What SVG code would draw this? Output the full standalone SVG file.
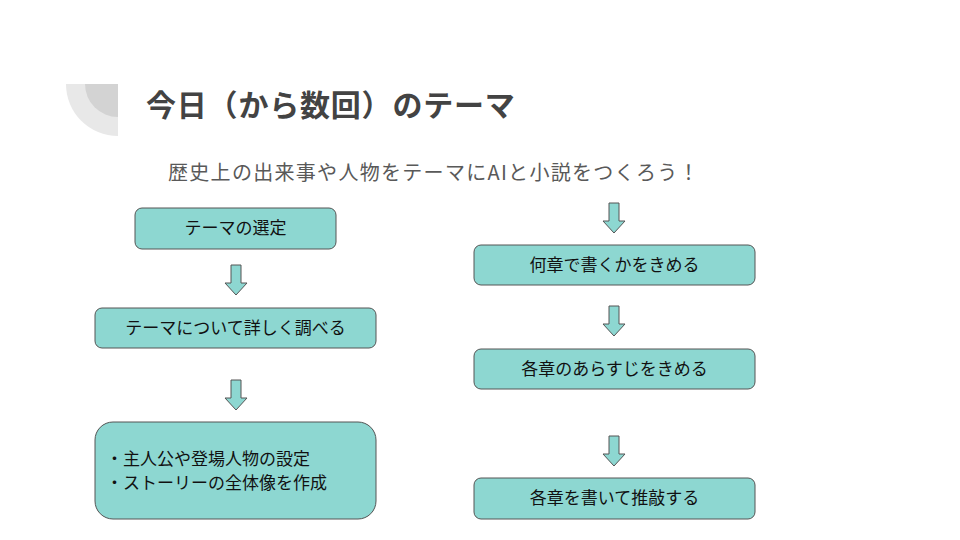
<svg xmlns="http://www.w3.org/2000/svg" width="960" height="540" viewBox="0 0 960 540">
<defs>
<style>
.box{fill:#8dd7d1;stroke:#555;stroke-width:1}
.t{font-family:"Noto Sans CJK JP","Noto Sans",sans-serif;font-size:17px;fill:#111;text-anchor:middle}
.arr{fill:#8dd7d1;stroke:#555;stroke-width:1}
.b{font-family:"Noto Sans CJK JP",sans-serif;font-size:17px;fill:#111}
</style>
<path id="da" d="M-5,0 H5 V18 H11 L0,30 L-11,18 H-5 Z"/>
</defs>
<rect width="960" height="540" fill="#fff"/>
<path d="M118,84 V136 A52,52 0 0 1 66,84 Z" fill="#e8e8e8"/>
<path d="M118,84 V117 A33,33 0 0 1 85,84 Z" fill="#d3d3d3"/>
<text x="146" y="116" style="font-family:'Noto Sans CJK JP',sans-serif;font-size:30px;font-weight:bold;fill:#434343;letter-spacing:0.8px">今日（から数回）のテーマ</text>
<text x="168" y="180" style="font-family:'Noto Sans CJK JP',sans-serif;font-size:20px;fill:#595959;letter-spacing:1.3px">歴史上の出来事や人物をテーマにAIと小説をつくろう！</text>
<g id="n1"><rect class="box" x="135" y="208" width="201" height="41" rx="7"/><text class="t" x="235.500" y="234">テーマの選定</text></g>
<g id="n2"><rect class="box" x="95" y="308" width="281" height="40" rx="7"/><text class="t" x="235.500" y="334">テーマについて詳しく調べる</text></g>
<g id="n3"><rect class="box" x="95" y="422" width="281" height="97" rx="18"/><text class="b" x="106" y="465">・主人公や登場人物の設定</text><text class="b" x="106" y="489">・ストーリーの全体像を作成</text></g>
<g id="n4"><rect class="box" x="474" y="245" width="281" height="40" rx="7"/><text class="t" x="614.500" y="271">何章で書くかをきめる</text></g>
<g id="n5"><rect class="box" x="474" y="349" width="281" height="40" rx="7"/><text class="t" x="614.500" y="375">各章のあらすじをきめる</text></g>
<g id="n6"><rect class="box" x="474" y="478" width="281" height="41" rx="7"/><text class="t" x="614.500" y="504">各章を書いて推敲する</text></g>
<g id="connectors">
<use href="#da" class="arr" x="236" y="265"/>
<use href="#da" class="arr" x="236" y="380"/>
<use href="#da" class="arr" x="614" y="203"/>
<use href="#da" class="arr" x="614" y="306"/>
<use href="#da" class="arr" x="614" y="436"/>
</g>
</svg>
